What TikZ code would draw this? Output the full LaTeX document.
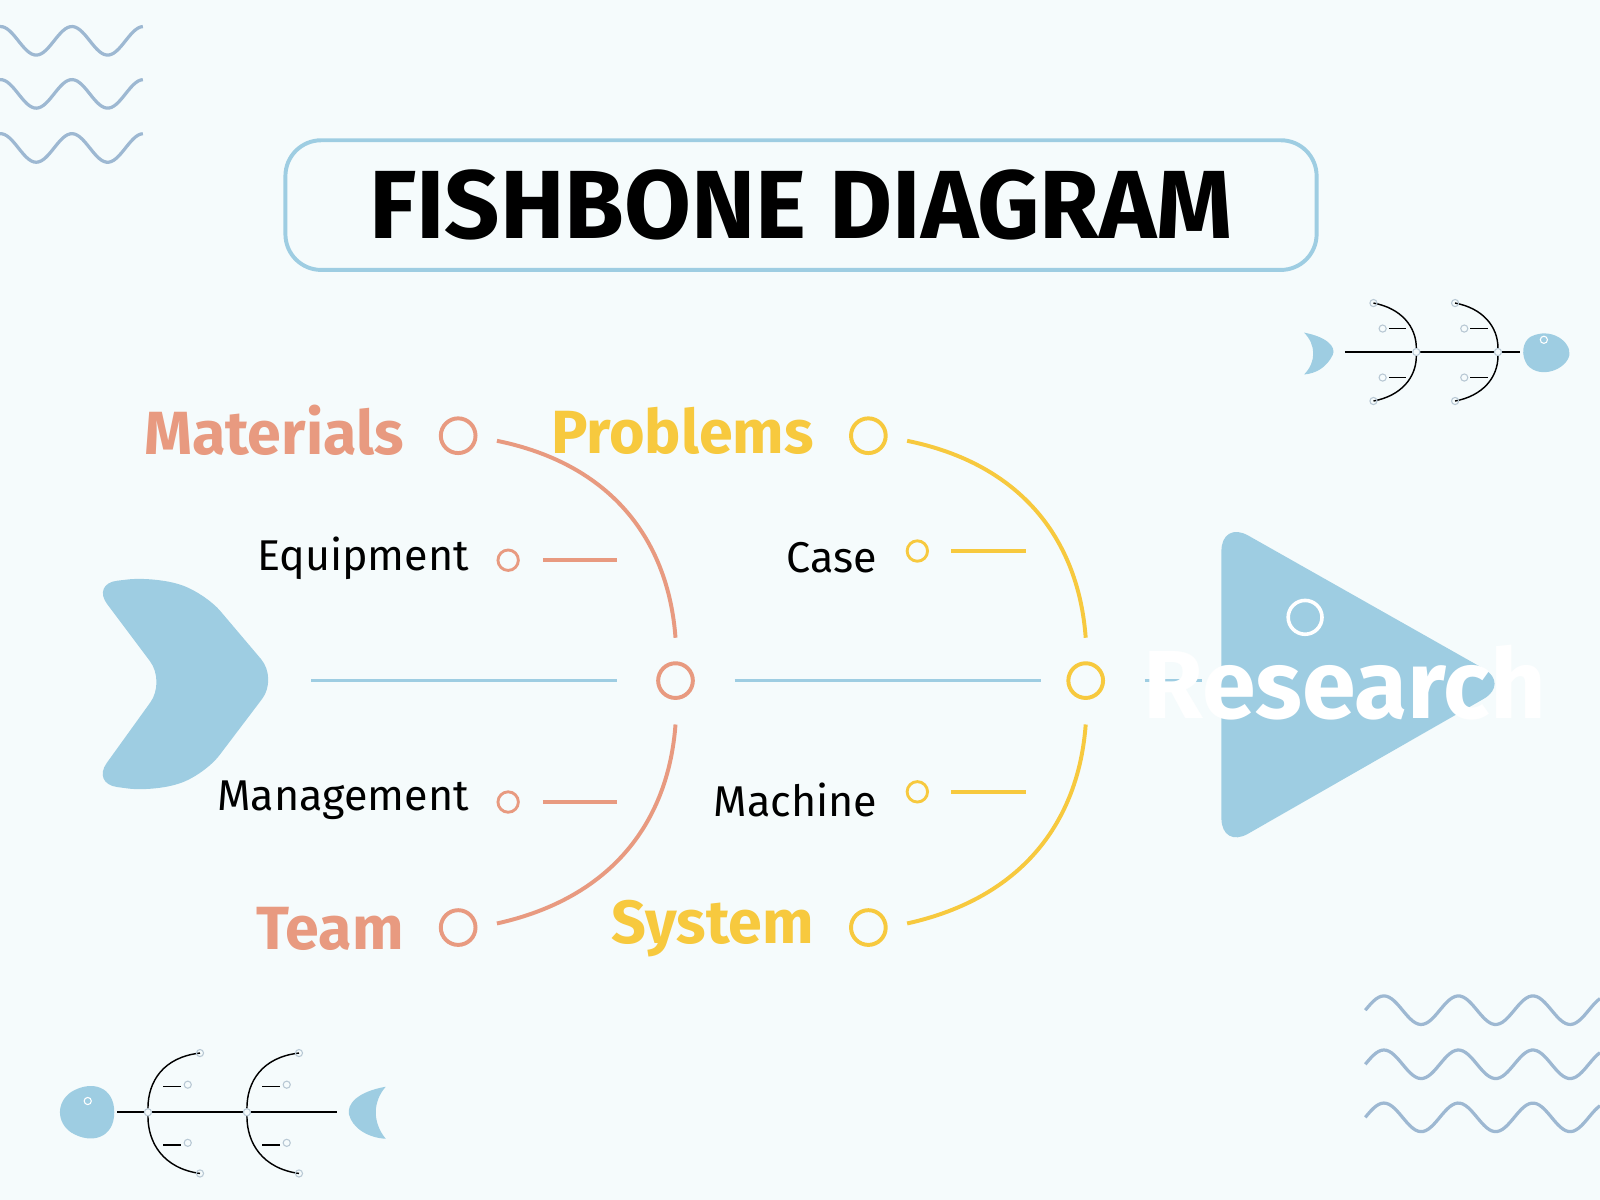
\documentclass[tikz,border=0pt]{standalone}
\usepackage{fontspec}
\setmainfont{Fira Sans}
\begin{document}
\begin{tikzpicture}[x=0.01cm,y=-0.01cm]
\definecolor{bg}{HTML}{F5FBFC}\definecolor{blu}{HTML}{9ECDE2}
\definecolor{sal}{HTML}{E89A80}\definecolor{yel}{HTML}{F7C93E}
\definecolor{wav}{HTML}{9DB8D2}\definecolor{thin}{HTML}{B8C8D4}
\tikzset{sp/.style={blu,line width=1pt},
 sarc/.style={sal,line width=1.1pt},yarc/.style={yel,line width=1.1pt},
 big/.style={circle,draw,line width=1.1pt,minimum size=0.34cm,inner sep=0pt},
 sm/.style={circle,draw,line width=0.8pt,minimum size=0.2cm,inner sep=0pt},
 tn/.style={circle,draw=thin,line width=0.3pt,minimum size=0.07cm,inner sep=0pt},
 cat/.style={font=\fontsize{17}{20}\selectfont\bfseries,anchor=east},
 sub/.style={font=\fontsize{12}{14}\selectfont,anchor=east,text=black},
 wave/.style={wav,line width=0.9pt}}
\fill[bg] (0,0) rectangle (1568,1176);
\useasboundingbox (0,0) rectangle (1568,1176);
% waves
\foreach \y in {40,92,145}{\draw[wave,domain=0:140,samples=60,variable=\t] plot (\t,{\y+14*sin((\t-18)/70*360)});}
\foreach \y in {990,1043,1095}{\draw[wave,domain=1338:1568,samples=90,variable=\t] plot (\t,{\y-14*sin((\t-1338)/73*360)});}
% title
\node[draw=blu,line width=1.1pt,rounded corners=0.35cm,minimum width=10.1cm,minimum height=1.27cm] (title) at (785,201) {};
\node[font=\fontsize{27}{30}\selectfont\bfseries] (tt) at (785,201) {FISHBONE DIAGRAM};
% tail
\fill[blu,rounded corners=0.25cm] (150,565) -- (200,580) -- (272,665) -- (200,760) -- (150,776) -- (90,768) -- (162,668) -- (90,572) -- cycle;
% spine
\node[big,draw=sal] (c1) at (662,667) {};
\node[big,draw=yel] (c2) at (1064,667) {};
\coordinate (s0) at (305,667);\coordinate (s1) at (605,667);
\coordinate (s2) at (720,667);\coordinate (s3) at (1020,667);
\coordinate (s4) at (1122,667);\coordinate (s5) at (1178,667);
\draw[sp] (s0)--(s1);\draw[sp](s2)--(s3);\draw[sp](s4)--(s5);
% head
\fill[blu,rounded corners=0.3cm] (1197,510) -- (1480,670) -- (1197,832) -- cycle;
\node[circle,draw=white,line width=1pt,minimum size=0.3cm] (hc) at (1279,605) {};
\node[text=white,font=\fontsize{27}{30}\selectfont\bfseries] (res) at (1318,669) {Research};
% branches
\foreach \dx/\st/\col/\a/\d/\A/\D in {0/sarc/sal/Materials/Team/a/d, 402/yarc/yel/Problems/System/e/h}{
 \draw[\st] (487+\dx,432) .. controls (600+\dx,455) and (655+\dx,530) .. (662+\dx,625);
 \draw[\st] (662+\dx,710) .. controls (655+\dx,805) and (600+\dx,880) .. (487+\dx,905);
 \node[big,draw=\col] (\A) at (449+\dx,427) {};
 \node[big,draw=\col] (\D) at (449+\dx,909) {};
 \node[cat,text=\col] at (408+\dx,422) {\a};
 \node[cat,text=\col] at (408+\dx,910) {\d};
}
\node[sm,draw=sal] (b) at (498,549) {};\draw[sarc] (532,549)--(605,549);
\node[sm,draw=sal] (c) at (498,786) {};\draw[sarc] (532,786)--(605,786);
\node[sub] at (472,547) {Equipment};\node[sub] at (472,784) {Management};
\node[sm,draw=yel] (f) at (899,540) {};\draw[yarc] (932,540)--(1005,540);
\node[sm,draw=yel] (g) at (899,776) {};\draw[yarc] (932,776)--(1005,776);
\node[sub] at (872,547) {Case};\node[sub] at (872,784) {Machine};
% small fish top right
\fill[blu] (1500,330) .. controls (1520,320) and (1540,335) .. (1538,348) .. controls (1535,362) and (1510,372) .. (1497,358) .. controls (1490,348) and (1492,335) .. (1500,330) -- cycle;
\node[tn,draw=white] at (1513,333) {};
\fill[blu] (1278,326) .. controls (1300,330) and (1310,340) .. (1306,348) .. controls (1300,360) and (1290,366) .. (1278,367) .. controls (1290,355) and (1290,338) .. (1278,326) -- cycle;
\draw[thin,line width=0.6pt] (1318,345)--(1384,345) (1392,345)--(1464,345) (1472,345)--(1490,345);
\foreach \x in {1388,1468}{
 \node[tn] at (\x,345) {};
 \draw[thin,line width=0.4pt] (\x-42,297) .. controls (\x-15,302) and (\x,320) .. (\x,341);
 \draw[thin,line width=0.4pt] (\x,349) .. controls (\x,370) and (\x-15,388) .. (\x-42,393);
 \node[tn] at (\x-42,297) {};\node[tn] at (\x-42,393) {};
 \node[tn] at (\x-33,322) {};\draw[thin,line width=0.4pt] (\x-27,322)--(\x-10,322);
 \node[tn] at (\x-33,370) {};\draw[thin,line width=0.4pt] (\x-27,370)--(\x-10,370);
}
% small fish bottom left
\fill[blu] (70,1070) .. controls (90,1058) and (112,1065) .. (112,1090) .. controls (112,1115) and (90,1122) .. (70,1110) .. controls (55,1100) and (55,1080) .. (70,1070) -- cycle;
\node[tn,draw=white] at (86,1079) {};
\fill[blu] (378,1065) .. controls (350,1070) and (340,1082) .. (342,1092) .. controls (345,1105) and (360,1115) .. (378,1116) .. controls (365,1100) and (365,1080) .. (378,1065) -- cycle;
\draw[thin,line width=0.6pt] (115,1090)--(141,1090) (149,1090)--(238,1090) (246,1090)--(330,1090);
\foreach \x in {145,242}{
 \node[tn] at (\x,1090) {};
 \draw[thin,line width=0.4pt] (\x+51,1032) .. controls (\x+15,1036) and (\x,1060) .. (\x,1086);
 \draw[thin,line width=0.4pt] (\x,1094) .. controls (\x,1120) and (\x+15,1145) .. (\x+51,1150);
 \node[tn] at (\x+51,1032) {};\node[tn] at (\x+51,1150) {};
 \node[tn] at (\x+39,1063) {};\draw[thin,line width=0.4pt] (\x+15,1065)--(\x+32,1065);
 \node[tn] at (\x+39,1120) {};\draw[thin,line width=0.4pt] (\x+15,1122)--(\x+32,1122);
}
\end{tikzpicture}
\end{document}
